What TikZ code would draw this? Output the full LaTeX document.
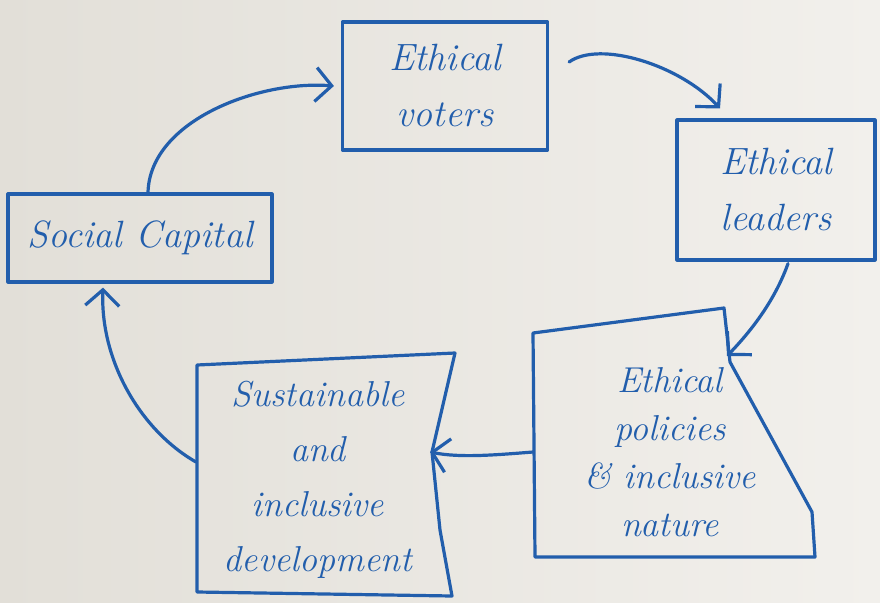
\documentclass[tikz,border=0pt]{standalone}
\usetikzlibrary{arrows.meta}
\definecolor{ink}{RGB}{34,94,172}
\definecolor{paperL}{RGB}{226,223,216}
\definecolor{paperR}{RGB}{242,240,236}
\newcommand\handfont{\fontsize{38}{56}\selectfont\itshape}
\begin{document}
\begin{tikzpicture}[x=1pt,y=-1pt,
  inkline/.style={draw=ink, line width=3.2pt, line cap=round, line join=round},
  box/.style={inkline, rectangle, inner sep=0pt, font=\handfont, text=ink, align=center},
  handtext/.style={inner sep=0pt, font=\handfont, text=ink, align=center},
  flow/.style={inkline, -{Straight Barb[length=16pt,width=34pt]}}]

% paper
\useasboundingbox (0,0) rectangle (880,602);
\shade[left color=paperL, right color=paperR] (0,0) rectangle (880,602);

% rectangular boxes
\node[box, minimum width=264, minimum height=88] (soc) at (140,238) {Social Capital};
\node[box, minimum width=205, minimum height=128] (vot) at (445,86) {Ethical\\voters};
\node[box, minimum width=198, minimum height=140] (lead) at (776,190) {Ethical\\leaders};

% policies box (irregular outline)
\coordinate (p1) at (533,333);
\coordinate (p2) at (724,308);
\coordinate (p3) at (730,362);
\coordinate (p4) at (812,512);
\coordinate (p5) at (815,557);
\coordinate (p6) at (535,557);
\draw[inkline] (p1) -- (p2) -- (p3) -- (p4) -- (p5) -- (p6) -- cycle;
\node[handtext, font=\fontsize{36}{48}\selectfont\itshape] (pol) at (670,452)
  {Ethical\\policies\\\& inclusive\\nature};
\coordinate (polL) at (533,452);
\coordinate (polIn) at (727,356);

% development box (irregular outline)
\coordinate (s1) at (197,365);
\coordinate (s2) at (455,353);
\coordinate (s3) at (432,452);
\coordinate (s4) at (440,530);
\coordinate (s5) at (452,596);
\coordinate (s6) at (197,592);
\draw[inkline] (s1) -- (s2) -- (s3) -- (s4) -- (s5) -- (s6) -- cycle;
\node[handtext, font=\fontsize{36}{55}\selectfont\itshape] (sus) at (318,480)
  {Sustainable\\and\\inclusive\\development};
\coordinate (susL) at (196,462);
\coordinate (susIn) at (430,452);

% cycle of arrows
\draw[flow] ([xshift=8pt]soc.north) .. controls (150,120) and (260,80) .. ([xshift=-7pt]vot.west);
\draw[flow] ([xshift=20pt,yshift=24pt]vot.east) .. controls (600,40) and (680,65) .. ([xshift=-56pt,yshift=10pt]lead.north);
\draw[flow] ([xshift=12pt,yshift=-2pt]lead.south) .. controls (775,300) and (752,330) .. (polIn);
\draw[flow] (polL) .. controls (495,455) and (460,458) .. (susIn);
\draw[flow] (susL) .. controls (140,430) and (100,360) .. ([xshift=-37pt,yshift=-4pt]soc.south);
\end{tikzpicture}
\end{document}
